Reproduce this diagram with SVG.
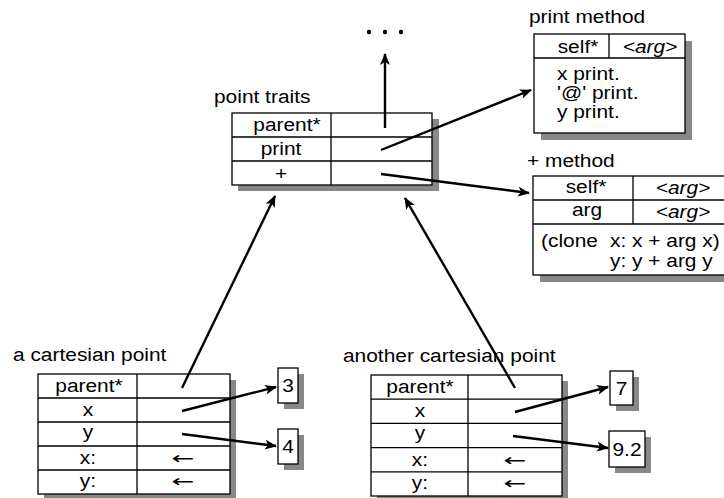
<svg xmlns="http://www.w3.org/2000/svg" width="724" height="498" viewBox="0 0 724 498">
<style>
  text { font-family: "Liberation Sans", Arial, Helvetica, sans-serif; font-size: 19px; fill: #000; }
  .m { text-anchor: middle; }
  .i { font-style: italic; }
  .ar { font-family: "DejaVu Sans", sans-serif; font-size: 17px; }
  .box { fill: #fff; stroke: #000; stroke-width: 1.3; }
  .sh { fill: #888; stroke: none; }
  .ln { stroke: #000; stroke-width: 1.3; fill: none; }
  .arr { stroke: #000; stroke-width: 2.4; fill: none; marker-end: url(#ah); }
</style>
<defs>
  <marker id="ah" viewBox="0 0 12 10" refX="11" refY="5" markerWidth="12" markerHeight="10" markerUnits="userSpaceOnUse" orient="auto">
    <path d="M0,0 L12,5 L0,10 L3,5 z" fill="#000"/>
  </marker>
</defs>
<rect width="724" height="498" fill="#fff"/>

<g id="ellipsis">
  <circle cx="369" cy="32" r="2.2" fill="#000"/>
  <circle cx="385" cy="32" r="2.2" fill="#000"/>
  <circle cx="401" cy="32" r="2.2" fill="#000"/>
</g>

<g id="point-traits">
  <text transform="translate(214,103) scale(1.1,1)">point traits</text>
  <rect class="sh" x="238" y="119" width="201" height="72"/>
  <rect class="box" x="232" y="113" width="200" height="72"/>
  <path class="ln" d="M232,137 H432 M232,161 H432 M331,113 V185"/>
  <text class="m" transform="translate(287,131) scale(1.1,1)">parent*</text>
  <text class="m" transform="translate(281,155) scale(1.1,1)">print</text>
  <text class="m" transform="translate(281,180) scale(1.1,1)">+</text>
</g>

<g id="print-method">
  <text transform="translate(529,23) scale(1.1,1)">print method</text>
  <rect class="sh" x="541" y="41" width="151" height="99"/>
  <rect class="box" x="534" y="34" width="151" height="99"/>
  <path class="ln" d="M534,58 H685 M609,34 V58"/>
  <text class="m" transform="translate(578,53) scale(1.1,1)">self*</text>
  <text class="m i" transform="translate(650,53) scale(1.1,1)">&lt;arg&gt;</text>
  <text transform="translate(557,80) scale(1.1,1)">x print.</text>
  <text transform="translate(557,99) scale(1.1,1)">'@' print.</text>
  <text transform="translate(557,118) scale(1.1,1)">y print.</text>
</g>

<g id="plus-method">
  <text transform="translate(527,167) scale(1.1,1)">+ method</text>
  <rect class="sh" x="540" y="183" width="200" height="99"/>
  <rect class="box" x="533" y="176" width="200" height="99"/>
  <path class="ln" d="M533,200 H733 M533,224 H733 M633,176 V224"/>
  <text class="m" transform="translate(586,193) scale(1.1,1)">self*</text>
  <text class="m i" transform="translate(683,194) scale(1.1,1)">&lt;arg&gt;</text>
  <text class="m" transform="translate(587,216) scale(1.1,1)">arg</text>
  <text class="m i" transform="translate(683,218) scale(1.1,1)">&lt;arg&gt;</text>
  <text transform="translate(541,247) scale(1.1,1)">(clone</text>
  <text transform="translate(610,247) scale(1.1,1)">x:</text>
  <text transform="translate(632,247) scale(1.1,1)">x + arg x)</text>
  <text transform="translate(610,267) scale(1.1,1)">y:</text>
  <text transform="translate(632,267) scale(1.1,1)">y + arg y</text>
</g>

<g id="cartesian-point">
  <text transform="translate(13,361) scale(1.1,1)">a cartesian point</text>
  <rect class="sh" x="44" y="380" width="192" height="120"/>
  <rect class="box" x="38" y="374" width="192" height="120"/>
  <path class="ln" d="M38,398 H230 M38,422 H230 M38,446 H230 M38,470 H230 M137,374 V494"/>
  <text class="m" transform="translate(89,392) scale(1.1,1)">parent*</text>
  <text class="m" transform="translate(88,416) scale(1.1,1)">x</text>
  <text class="m" transform="translate(88,438) scale(1.1,1)">y</text>
  <text class="m" transform="translate(88,464) scale(1.1,1)">x:</text>
  <text class="m" transform="translate(88,487) scale(1.1,1)">y:</text>
  <text class="m ar" transform="translate(183,464) scale(1.6,1)">←</text>
  <text class="m ar" transform="translate(183,487) scale(1.6,1)">←</text>
</g>

<g id="value-3">
  <rect class="sh" x="284" y="374" width="20" height="35"/>
  <rect class="box" x="278" y="368" width="20" height="35"/>
  <text class="m" transform="translate(288,392) scale(1.1,1)">3</text>
</g>
<g id="value-4">
  <rect class="sh" x="284" y="435" width="20" height="35"/>
  <rect class="box" x="278" y="429" width="20" height="35"/>
  <text class="m" transform="translate(288,453) scale(1.1,1)">4</text>
</g>

<g id="another-cartesian-point">
  <text transform="translate(343,362) scale(1.1,1)">another cartesian point</text>
  <rect class="sh" x="377" y="381" width="191" height="121"/>
  <rect class="box" x="371" y="375" width="191" height="121"/>
  <path class="ln" d="M371,399.2 H562 M371,423.4 H562 M371,447.6 H562 M371,471.8 H562 M468,375 V496"/>
  <text class="m" transform="translate(420,393) scale(1.1,1)">parent*</text>
  <text class="m" transform="translate(420,417) scale(1.1,1)">x</text>
  <text class="m" transform="translate(420,439) scale(1.1,1)">y</text>
  <text class="m" transform="translate(420,466) scale(1.1,1)">x:</text>
  <text class="m" transform="translate(420,489) scale(1.1,1)">y:</text>
  <text class="m ar" transform="translate(515,466) scale(1.6,1)">←</text>
  <text class="m ar" transform="translate(515,489) scale(1.6,1)">←</text>
</g>

<g id="value-7">
  <rect class="sh" x="616" y="377" width="23" height="34"/>
  <rect class="box" x="610" y="371" width="23" height="34"/>
  <text class="m" transform="translate(621.5,395) scale(1.1,1)">7</text>
</g>
<g id="value-9-2">
  <rect class="sh" x="615" y="437" width="36" height="36"/>
  <rect class="box" x="609" y="431" width="36" height="36"/>
  <text class="m" transform="translate(627,456) scale(1.1,1)">9.2</text>
</g>

<g id="connectors">
  <path class="arr" d="M385,128 L385,54"/>
  <path class="arr" d="M381,150 L531,90"/>
  <path class="arr" d="M381,174 L529,193"/>
  <path class="arr" d="M182,388 L275,196"/>
  <path class="arr" d="M182,411 L276,387"/>
  <path class="arr" d="M182,434 L276,446"/>
  <path class="arr" d="M515,388 L405,198"/>
  <path class="arr" d="M515,412 L608,387"/>
  <path class="arr" d="M513,436 L608,448"/>
</g>
</svg>
